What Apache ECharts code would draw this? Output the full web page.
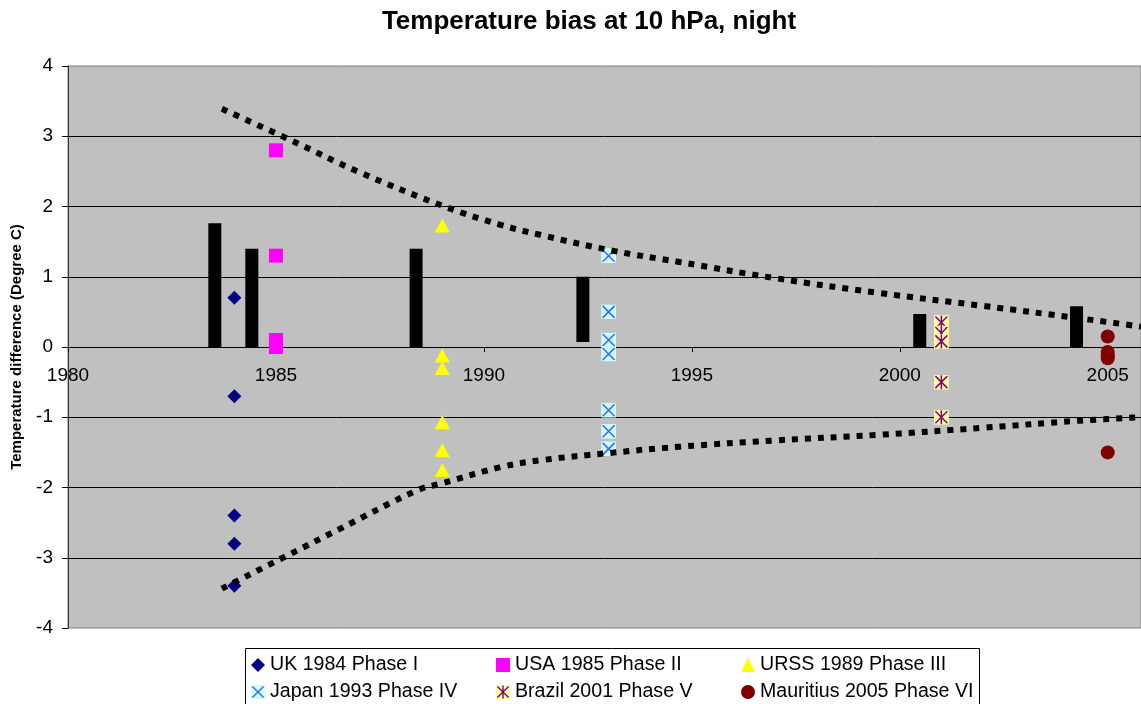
<!DOCTYPE html>
<html>
<head>
<meta charset="utf-8">
<script src="https://cdn.jsdelivr.net/npm/echarts@6/dist/echarts.min.js"></script>
<style>
html,body{margin:0;padding:0;background:#fff;}
#chart{width:1141px;height:704px;}
</style>
</head>
<body>
<div id="chart"></div>
<script>
// ---- data ----
const titleText = 'Temperature bias at 10 hPa, night';
const yAxisName = 'Temperature difference (Degree C)';

const ukYear = 1984;
const ukValues = [0.7, -0.7, -2.4, -2.8, -3.4];
const usaYear = 1985;
const usaValues = [2.8, 1.3, 0.1, 0.0];
const urssYear = 1989;
const urssValues = [1.73, -0.12, -0.3, -1.07, -1.47, -1.75];
const japanYear = 1993;
const japanValues = [1.3, 0.5, 0.1, -0.1, -0.9, -1.2, -1.45];
const brazilYear = 2001;
const brazilValues = [0.35, 0.2, 0.08, -0.5, -1.0];
const mauritiusYear = 2005;
const mauritiusValues = [0.15, -0.07, -0.12, -0.16, -1.5];

// black range bars: [year, low, high]
const barYears = [1983.53, 1984.42, 1988.37, 1992.38, 2000.48, 2004.25];
const barLows  = [0, 0, 0, 0.07, 0, 0];
const barHighs = [1.76, 1.4, 1.4, 1.0, 0.47, 0.58];

// dotted envelope curves
const upperX = [1983.7, 1985.3, 1987.0, 1989.1, 1990.4, 1991.4, 1993.1, 1994.7, 1997.0, 1999.5, 2002.0, 2004.3, 2005.8];
const upperY = [3.39, 2.96, 2.49, 1.99, 1.74, 1.59, 1.37, 1.21, 0.98, 0.77, 0.585, 0.41, 0.29];
const lowerX = [1983.7, 1985.3, 1986.5, 1988.4, 1989.0, 1990.4, 1991.4, 1993.0, 1994.7, 1997.0, 1999.5, 2002.0, 2004.3, 2005.8];
const lowerY = [-3.44, -2.96, -2.6, -2.04, -1.94, -1.71, -1.61, -1.51, -1.42, -1.33, -1.25, -1.15, -1.05, -1.0];

const seriesNames = ['UK 1984 Phase I', 'USA 1985 Phase II', 'URSS 1989 Phase III',
                     'Japan 1993 Phase IV', 'Brazil 2001 Phase V', 'Mauritius 2005 Phase VI'];
const xTicks = { min: 1980, max: 2005.8, interval: 5 };
const yTicks = { min: -4, max: 4, interval: 1 };

// ---- helpers ----
const FONT = 'Liberation Sans, Arial, sans-serif';
const pts = (year, vals) => vals.map(v => [year, v]);
const zip = (xs, ys) => xs.map((x, i) => [x, ys[i]]);
const svgIcon = (bg, stroke, vertical) => {
  const svg = "<svg xmlns='http://www.w3.org/2000/svg' width='30' height='30' viewBox='0 0 30 30'>" +
    "<rect x='0' y='0' width='30' height='30' fill='" + bg + "'/>" +
    "<path d='M3,3L27,27M27,3L3,27" + (vertical ? "M15,1L15,29" : "") + "' stroke='" + stroke + "' stroke-width='3' fill='none'/></svg>";
  return 'image://data:image/svg+xml;charset=utf-8,' + encodeURIComponent(svg);
};
const japanSymbol = svgIcon('#CCFFFF', '#3366FF', false);
const brazilSymbol = svgIcon('#FFFF99', '#800080', true);

const chart = echarts.init(document.getElementById('chart'), null, { renderer: 'canvas' });

const legendCommon = {
  orient: 'vertical', top: 655, itemWidth: 14, itemHeight: 14, itemGap: 7, padding: 0,
  textStyle: { fontFamily: FONT, fontSize: 19.6, color: '#000', lineHeight: 20 },
  selectedMode: false
};

// plot geometry (pixels): grid spans y 66..628, zero line sits at y 347
const gridTop = 66, gridBottomPx = 76;
const zeroOffset = -281;

const option = {
  backgroundColor: '#fff',
  animation: false,
  title: {
    text: titleText, left: 584, top: 4, textAlign: 'center',
    textStyle: { fontFamily: FONT, fontSize: 26, fontWeight: 'bold', color: '#000' }
  },
  graphic: [{
    type: 'rect', left: 245, top: 648, z: 0,
    shape: { width: 734, height: 70 },
    style: { fill: '#fff', stroke: '#000', lineWidth: 1 }
  }],
  legend: [
    Object.assign({}, legendCommon, { left: 251, data: [
      { name: seriesNames[0] }, { name: seriesNames[3], icon: japanSymbol }] }),
    Object.assign({}, legendCommon, { left: 496, data: [
      { name: seriesNames[1] }, { name: seriesNames[4], icon: brazilSymbol }] }),
    Object.assign({}, legendCommon, { left: 741, data: [
      { name: seriesNames[2] }, { name: seriesNames[5] }] })
  ],
  grid: {
    left: 68, right: 0, top: gridTop, bottom: gridBottomPx, show: true,
    backgroundColor: '#C0C0C0', borderColor: '#808080', borderWidth: 1
  },
  xAxis: {
    type: 'value', min: xTicks.min, max: xTicks.max, interval: xTicks.interval,
    position: 'bottom', offset: zeroOffset,
    splitLine: { show: false },
    axisLine: { show: true, onZero: false, lineStyle: { color: '#000', width: 1 } },
    axisTick: { show: true, length: 5, lineStyle: { color: '#000' } },
    axisLabel: {
      fontFamily: FONT, fontSize: 19, color: '#000', margin: 19, showMaxLabel: false,
      formatter: v => (Math.abs(v % 5) < 1e-9 ? String(v) : '')
    }
  },
  yAxis: {
    type: 'value', min: yTicks.min, max: yTicks.max, interval: yTicks.interval,
    name: yAxisName, nameLocation: 'middle', nameGap: 44, nameRotate: 90,
    nameTextStyle: { fontFamily: FONT, fontSize: 15, fontWeight: 'bold', color: '#000' },
    axisLine: { show: true, onZero: false, lineStyle: { color: '#333', width: 1 } },
    axisTick: { show: true, length: 6, lineStyle: { color: '#000' } },
    axisLabel: { fontFamily: FONT, fontSize: 19, color: '#000', margin: 15 },
    splitLine: { show: true, showMinLine: false, showMaxLine: false, lineStyle: { color: '#000', width: 1 } }
  },
  series: [
    {
      type: 'custom', name: 'bars', z: 1,
      data: barYears.map((x, i) => [x, barLows[i], barHighs[i]]),
      encode: { x: 0, y: [1, 2] },
      renderItem: (params, api) => {
        const top = api.coord([api.value(0), api.value(2)]);
        const bot = api.coord([api.value(0), api.value(1)]);
        const w = 13;
        return { type: 'rect', shape: { x: top[0] - w / 2, y: top[1], width: w, height: bot[1] - top[1] },
                 style: { fill: '#000' } };
      }
    },
    { type: 'scatter', name: seriesNames[0], z: 3, symbol: 'diamond', symbolSize: 14,
      itemStyle: { color: '#000080', opacity: 1 }, data: pts(ukYear, ukValues) },
    { type: 'scatter', name: seriesNames[1], z: 3, symbol: 'rect', symbolSize: 14,
      itemStyle: { color: '#FF00FF', opacity: 1 }, data: pts(usaYear, usaValues) },
    { type: 'scatter', name: seriesNames[2], z: 3, symbol: 'triangle', symbolSize: [15, 14],
      itemStyle: { color: '#FFFF00', opacity: 1 }, data: pts(urssYear, urssValues) },
    { type: 'scatter', name: seriesNames[3], z: 3, symbol: japanSymbol, symbolSize: 15,
      itemStyle: { color: '#3366FF', opacity: 1 }, data: pts(japanYear, japanValues) },
    { type: 'scatter', name: seriesNames[4], z: 3, symbol: brazilSymbol, symbolSize: 15,
      itemStyle: { color: '#800080', opacity: 1 }, data: pts(brazilYear, brazilValues) },
    { type: 'scatter', name: seriesNames[5], z: 3, symbol: 'circle', symbolSize: 14,
      itemStyle: { color: '#800000', opacity: 1 }, data: pts(mauritiusYear, mauritiusValues) },
    { type: 'line', name: 'upper', z: 4, smooth: 0.4, showSymbol: false, symbol: 'none', silent: true,
      lineStyle: { color: '#000', width: 6, type: [6, 7], cap: 'butt' }, data: zip(upperX, upperY) },
    { type: 'line', name: 'lower', z: 4, smooth: 0.4, showSymbol: false, symbol: 'none', silent: true,
      lineStyle: { color: '#000', width: 6, type: [6, 7], cap: 'butt' }, data: zip(lowerX, lowerY) }
  ]
};
chart.setOption(option);
</script>
</body>
</html>
